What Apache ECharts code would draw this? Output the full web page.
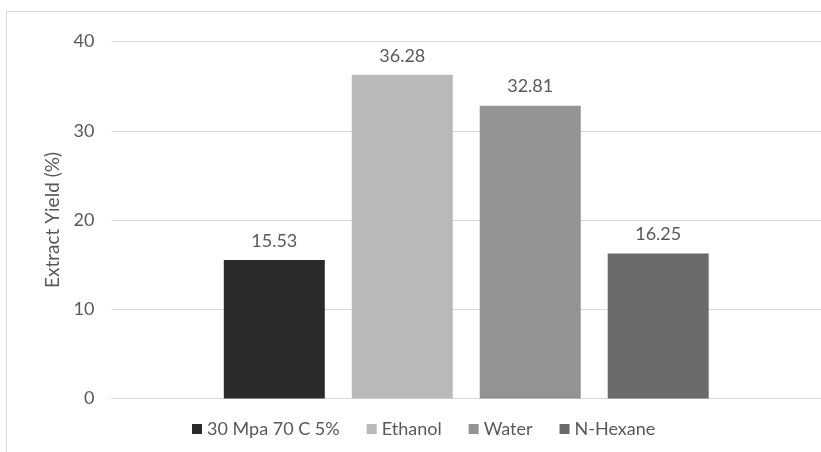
<!DOCTYPE html>
<html>
<head>
<meta charset="utf-8">
<script src="https://cdn.jsdelivr.net/npm/echarts@6/dist/echarts.min.js"></script>
<style>
  html, body { margin: 0; padding: 0; background: #ffffff; }
  #chart { width: 821px; height: 452px; }
</style>
</head>
<body>
<div id="chart"></div>
<script>
// Extraction methods and their yields (%)
const methods = ['30 Mpa 70 C 5%', 'Ethanol', 'Water', 'N-Hexane'];
const yields = [15.53, 36.28, 32.81, 16.25];
const barColors = ['#2a2a2a', '#b9b9b9', '#939393', '#6a6a6a'];
const yTicks = { min: 0, max: 40, interval: 10 };
const yTitle = 'Extract Yield (%)';

const FONT = 'Lato';
const TEXT = '#595959';
const GRID = '#d9d9d9';

const chart = echarts.init(document.getElementById('chart'), null, { renderer: 'canvas' });

const series = methods.map((name, i) => ({
  name: name,
  type: 'bar',
  data: [yields[i]],
  barWidth: 101,
  barGap: '26.7%',
  itemStyle: { color: barColors[i] },
  label: {
    show: true,
    position: 'top',
    distance: 10,
    color: TEXT,
    fontFamily: FONT,
    fontSize: 18,
    formatter: (p) => p.value.toFixed(2)
  }
}));

chart.setOption({
  animation: false,
  backgroundColor: '#ffffff',
  textStyle: { fontFamily: FONT },
  graphic: [{
    type: 'rect',
    shape: { x: 6.5, y: 11.5, width: 1000, height: 1000 },
    style: { fill: 'none', stroke: GRID, lineWidth: 1 },
    silent: true,
    z: -1
  }],
  grid: { left: 111.5, right: -0.5, top: 41.5, bottom: 53.5, containLabel: false },
  legend: {
    left: 187,
    top: 414,
    itemWidth: 10,
    itemHeight: 10,
    itemGap: 27,
    icon: 'rect',
    textStyle: { color: TEXT, fontFamily: FONT, fontSize: 18, lineHeight: 20 },
    data: methods
  },
  xAxis: {
    type: 'category',
    data: [''],
    axisLine: { show: true, lineStyle: { color: GRID, width: 1 } },
    axisTick: { show: false },
    axisLabel: { show: false }
  },
  yAxis: {
    type: 'value',
    min: yTicks.min,
    max: yTicks.max,
    interval: yTicks.interval,
    name: yTitle,
    nameLocation: 'middle',
    nameRotate: 90,
    nameGap: 48,
    nameTextStyle: { color: TEXT, fontFamily: FONT, fontSize: 19 },
    axisLine: { show: false },
    axisTick: { show: false },
    axisLabel: { color: TEXT, fontFamily: FONT, fontSize: 18, margin: 17 },
    splitLine: { lineStyle: { color: GRID, width: 1 } }
  },
  series: series
});
</script>
</body>
</html>
